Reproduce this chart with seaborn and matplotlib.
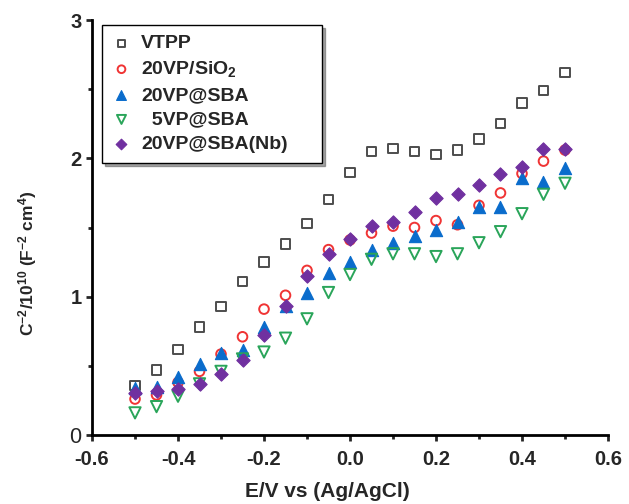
import matplotlib
matplotlib.use("Agg")
import matplotlib.pyplot as plt
import seaborn as sns
import pandas as pd
from matplotlib.ticker import MultipleLocator

sns.set_style("ticks")
plt.rcParams["font.family"] = ["Liberation Sans", "DejaVu Sans"]
plt.rcParams["mathtext.fontset"] = "custom"
plt.rcParams["mathtext.rm"] = "Liberation Sans"
plt.rcParams["mathtext.bf"] = "Liberation Sans:bold"
plt.rcParams["mathtext.default"] = "bf"

# Mott-Schottky data: potential (V vs Ag/AgCl) and C^-2 / 1e10 (F^-2 cm^4)
potential = [-0.50, -0.45, -0.40, -0.35, -0.30, -0.25, -0.20, -0.15, -0.10, -0.05,
             0.00, 0.05, 0.10, 0.15, 0.20, 0.25, 0.30, 0.35, 0.40, 0.45, 0.50]

vtpp = [0.36, 0.47, 0.62, 0.78, 0.93, 1.11, 1.25, 1.38, 1.53, 1.70,
        1.90, 2.05, 2.07, 2.05, 2.03, 2.06, 2.14, 2.25, 2.40, 2.49, 2.62]
vp20_sio2 = [0.26, 0.29, 0.38, 0.46, 0.585, 0.71, 0.91, 1.01, 1.19, 1.34,
             1.41, 1.46, 1.51, 1.50, 1.55, 1.52, 1.66, 1.75, 1.89, 1.98, 2.06]
vp20_sba = [0.34, 0.345, 0.42, 0.51, 0.59, 0.615, 0.78, 0.93, 1.03, 1.17,
            1.25, 1.34, 1.39, 1.44, 1.48, 1.54, 1.65, 1.65, 1.86, 1.83, 1.93]
vp5_sba = [0.16, 0.205, 0.28, 0.37, 0.46, 0.55, 0.60, 0.70, 0.84, 1.03,
           1.16, 1.27, 1.31, 1.31, 1.29, 1.31, 1.39, 1.47, 1.60, 1.74, 1.82]
vp20_sba_nb = [0.305, 0.32, 0.33, 0.37, 0.44, 0.54, 0.72, 0.93, 1.15, 1.31,
               1.42, 1.51, 1.54, 1.61, 1.71, 1.745, 1.81, 1.89, 1.94, 2.07, 2.065]

labels = ["VTPP", "20VP/SiO$_2$", "20VP@SBA", "  5VP@SBA", "20VP@SBA(Nb)"]
series = [vtpp, vp20_sio2, vp20_sba, vp5_sba, vp20_sba_nb]

# marker, colour, filled, size (pt^2)
styles = [
    ("s", "#4d4d4d", False, 44),
    ("o", "#f03434", False, 48),
    ("^", "#0a6ccc", True, 78),
    ("v", "#2aa55a", False, 66),
    ("D", "#7030a0", True, 46),
]

fig = plt.figure(figsize=(6.29, 5.04), dpi=100)
ax = fig.add_axes([0.1463, 0.1369, 0.8203, 0.8234])

for lab, vals, (mk, col, filled, sz) in zip(labels, series, styles):
    df = pd.DataFrame({"E": potential, "C": vals})
    if filled:
        sns.scatterplot(data=df, x="E", y="C", ax=ax, marker=mk, s=sz,
                        color=col, edgecolor=col, linewidth=0.8, label=lab,
                        zorder=3)
    else:
        sns.scatterplot(data=df, x="E", y="C", ax=ax, marker=mk, s=sz,
                        color=col, facecolors="none", edgecolors=col,
                        linewidth=1.4, label=lab, zorder=3)

ax.set_xlim(-0.6, 0.6)
ax.set_ylim(0, 3)
ax.xaxis.set_minor_locator(MultipleLocator(0.1))
ax.yaxis.set_minor_locator(MultipleLocator(0.5))
ax.set_xticks([-0.6, -0.4, -0.2, 0.0, 0.2, 0.4, 0.6])
ax.set_xticklabels(["-0.6", "-0.4", "-0.2", "0.0", "0.2", "0.4", "0.6"])
ax.set_yticks([0, 1, 2, 3])
ax.set_yticklabels(["0", "1", "2", "3"])

ax.tick_params(axis="both", which="major", direction="out", length=4.5,
               width=2.0, labelsize=14.5)
ax.tick_params(axis="x", which="major", pad=6)
ax.tick_params(axis="y", which="major", pad=3)
ax.tick_params(axis="both", which="minor", direction="out", length=2.8,
               width=2.0)
for t in ax.get_xticklabels() + ax.get_yticklabels():
    t.set_fontweight("bold")
ax.get_yticklabels()[0].set_fontweight("normal")
ax.get_yticklabels()[0].set_fontsize(15.5)

sns.despine(ax=ax)
for sp in ("left", "bottom"):
    ax.spines[sp].set_linewidth(2.0)
    ax.spines[sp].set_color("black")

ax.set_xlabel("E/V vs (Ag/AgCl)", fontsize=15, fontweight="bold")
ax.xaxis.set_label_coords(0.457, -0.113)
ax.set_ylabel("C$^{-2}$/10$^{10}$ (F$^{-2}$ cm$^{4}$)", fontsize=12.5,
              fontweight="bold")
ax.yaxis.set_label_coords(-0.103, 0.414)

leg = ax.legend(loc="upper left", bbox_to_anchor=(0.0194, 0.0, 0.426, 0.988),
                mode="expand", frameon=True, fancybox=False, shadow=True,
                prop={"weight": "bold", "size": 14}, markerscale=0.8,
                handletextpad=0.5, handlelength=1.0, borderpad=0.5,
                labelspacing=0.36, borderaxespad=0)
leg.get_frame().set_edgecolor("black")
leg.get_frame().set_linewidth(1.0)

fig.savefig("out.png", dpi=100)
